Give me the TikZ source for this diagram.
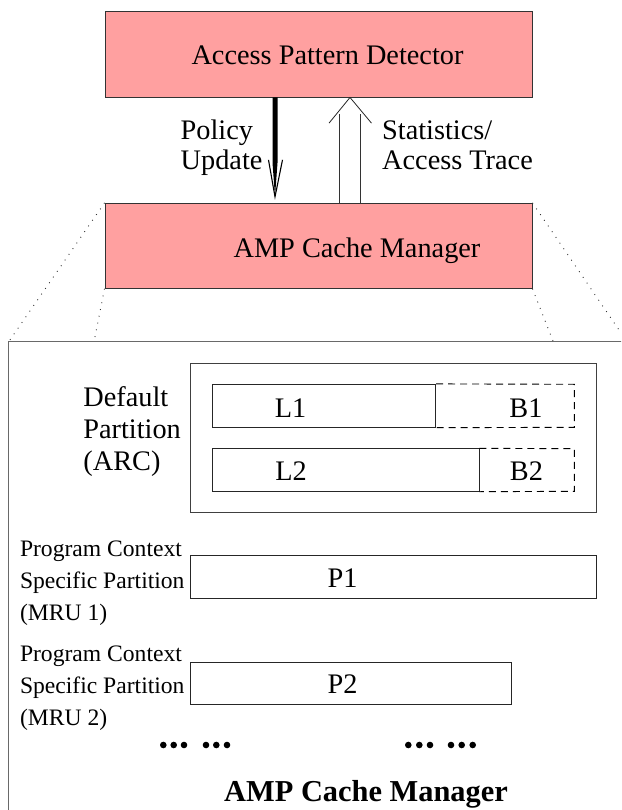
\documentclass[tikz,border=0pt]{standalone}
\usepackage{fontspec}
\setmainfont{Liberation Serif}
\usetikzlibrary{calc}
\definecolor{boxpink}{RGB}{255,160,160}
\definecolor{framegray}{RGB}{105,105,105}
\begin{document}
\begin{tikzpicture}[x=1pt,y=-1pt,
  pinkbox/.style={draw=black!80,line width=0.9pt,fill=boxpink,inner sep=0pt},
  plainbox/.style={draw=black!85,line width=0.8pt,inner sep=0pt},
  ghostbox/.style={draw=black,line width=0.9pt,dash pattern=on 7pt off 5pt},
  zoomline/.style={black!80,line width=0.9pt,dash pattern=on 0.9pt off 6pt},
  bigtxt/.style={font=\fontsize{28.3}{32}\selectfont,inner sep=0pt},
  smalltxt/.style={font=\fontsize{23.6}{28}\selectfont,inner sep=0pt},
  titletxt/.style={font=\bfseries\fontsize{30.4}{34}\selectfont,inner sep=0pt},
  dot/.style={circle,fill=black,inner sep=0pt,minimum size=6.6pt}]
\useasboundingbox (0,0) rectangle (621,810);
\clip (0,0) rectangle (621,810);

% upper blocks
\node[pinkbox,minimum width=427pt,minimum height=86pt] (apd) at (318.5,54) {};
\node[pinkbox,minimum width=427pt,minimum height=85pt] (amp) at (318.5,245.8) {};
\node[bigtxt,anchor=base] (apdlabel) at (327.5,65) {Access Pattern Detector};
\node[bigtxt,anchor=base] (amplabel) at (357,257) {AMP Cache Manager};

% policy update: heavy arrow downwards
\path (apd.south -| 275,0) coordinate (pu0) (amp.north -| 275,0) coordinate (pu1);
\fill ($(pu0)+(-2.5,0)$) -- ($(pu0)+(2.5,0)$) -- ($(pu1)+(2.5,-40)$)
      -- ($(pu1)+(0,-6)$) -- ($(pu1)+(-2.5,-40)$) -- cycle;
\draw[line width=1.1pt,line join=miter] ($(pu1)+(-6.5,-43)$) -- ($(pu1)+(0,-6)$) -- ($(pu1)+(7.5,-43)$);
\node[bigtxt,anchor=base west] (pol1) at (180.5,139.3) {Policy};
\node[bigtxt,anchor=base west] (pol2) at (180.5,170) {Update};

% statistics: hollow arrow upwards
\path (apd.south -| 350,0) coordinate (st0) (amp.north -| 350,0) coordinate (st1);
\draw[black!80,line width=0.8pt] ($(st1)+(-10.5,0)$) -- ($(st0)+(-10.5,17)$)
      ($(st1)+(10.5,0)$) -- ($(st0)+(10.5,17)$);
\draw[black!85,line width=0.8pt] ($(st0)+(-21,25.7)$) -- (st0) -- ($(st0)+(21.5,25.7)$);
\node[bigtxt,anchor=base west] (sta1) at (382,139.3) {Statistics/};
\node[bigtxt,anchor=base west] (sta2) at (382,170) {Access Trace};

% enlarged view of the cache manager
\coordinate (fTL) at (8.7,341.7);
\draw[framegray,line width=1.5pt] (8.7,830) |- (640,341.7);
\draw[zoomline] (amp.north west) -- (fTL);
\draw[zoomline] (amp.south west) -- (94,341.7);
\draw[zoomline] (amp.north east) -- (627,341.7);
\draw[zoomline] (amp.south east) -- (553.3,341.7);

% default partition (ARC)
\node[plainbox,draw=black!75,line width=1pt,minimum width=405.5pt,minimum height=149.4pt] (arc) at (393.25,438) {};
\node[plainbox,minimum width=223.6pt,minimum height=43pt] (l1) at (323.8,405.8) {};
\draw[ghostbox] (l1.north east) -- (574.3,384.3) -- (574.3,427.3) -- (l1.south east);
\node[plainbox,minimum width=267pt,minimum height=42.6pt] (l2) at (345.5,470) {};
\draw[ghostbox] (l2.north east) -- (574.3,448.7) -- (574.3,491.3) -- (l2.south east);
\node[bigtxt,anchor=base] (l1t) at (290.5,417.3) {L1};
\node[bigtxt,anchor=base] (b1t) at (526,417.3) {B1};
\node[bigtxt,anchor=base] (l2t) at (291,480.5) {L2};
\node[bigtxt,anchor=base] (b2t) at (526.5,480.5) {B2};
\node[bigtxt,anchor=base west] (d1) at (83.2,406.5) {Default};
\node[bigtxt,anchor=base west] (d2) at (83.2,438.5) {Partition};
\node[bigtxt,anchor=base west] (d3) at (83.2,470.5) {(ARC)};

% program context specific partitions
\node[plainbox,minimum width=405.5pt,minimum height=42.3pt] (p1) at (393.25,576.85) {};
\node[plainbox,minimum width=320.5pt,minimum height=42.4pt] (p2) at (350.75,683.5) {};
\node[bigtxt,anchor=base] (p1t) at (342.6,587.7) {P1};
\node[bigtxt,anchor=base] (p2t) at (342.6,693.3) {P2};
\node[smalltxt,anchor=base west] (a1) at (19.8,556.7) {Program Context};
\node[smalltxt,anchor=base west] (a2) at (19.8,588.3) {Specific Partition};
\node[smalltxt,anchor=base west] (a3) at (19.8,620) {(MRU 1)};
\node[smalltxt,anchor=base west] (c1) at (19.8,661.7) {Program Context};
\node[smalltxt,anchor=base west] (c2) at (19.8,693.3) {Specific Partition};
\node[smalltxt,anchor=base west] (c3) at (19.8,725) {(MRU 2)};

% continuation marks
\foreach \x [count=\i] in {163.3,173.7,184,206,216.3,227,408.3,419.3,430,451,461.7,472.7}
  \node[dot] (dt\i) at (\x,745) {};

\node[titletxt,anchor=base] (title) at (366,801.5) {AMP Cache Manager};
\end{tikzpicture}
\end{document}
